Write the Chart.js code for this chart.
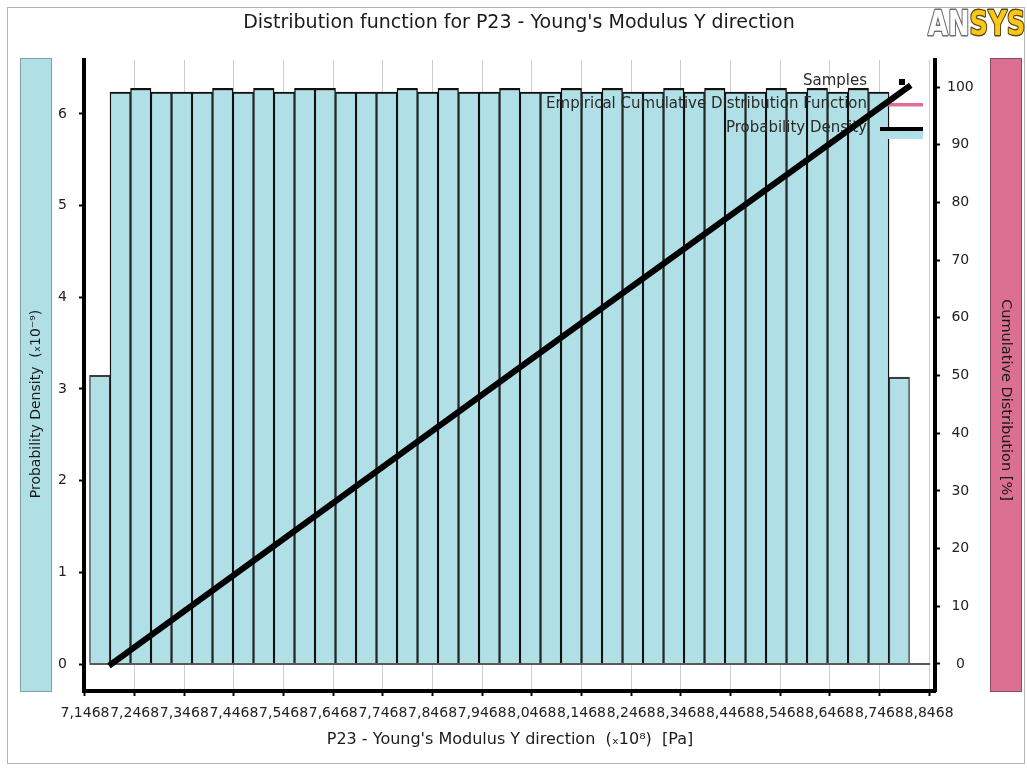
<!DOCTYPE html>
<html>
<head>
<meta charset="utf-8">
<script src="https://cdn.jsdelivr.net/npm/chart.js@4.4.1/dist/chart.umd.min.js"></script>
<style>
  html, body { margin: 0; padding: 0; background: #ffffff; }
  #wrap { width: 1027px; height: 769px; position: relative; }
</style>
</head>
<body>
<div id="wrap"><canvas id="c" width="1027" height="769"></canvas></div>
<script>
// P23 - Young's Modulus Y direction, values in units of 1e8 Pa
const binStart = 7.1559;     // left edge of the first histogram bin
const binWidth = 0.04129;    // width of every histogram bin
// probability density per bin, units of 1e-9
const density = [3.15, 6.24, 6.28, 6.24, 6.24, 6.24, 6.28, 6.24, 6.28, 6.24,
                 6.28, 6.28, 6.24, 6.24, 6.24, 6.28, 6.24, 6.28, 6.24, 6.24,
                 6.28, 6.24, 6.24, 6.28, 6.24, 6.28, 6.24, 6.24, 6.28, 6.24,
                 6.28, 6.24, 6.24, 6.28, 6.24, 6.28, 6.24, 6.28, 6.24, 3.13, 0];
// cumulative distribution of the samples
const cdfX   = [7.200, 8.000, 8.805];
const cdfPct = [0, 50, 100];
// axis ticks
const xTicks      = [7.1468, 7.2468, 7.3468, 7.4468, 7.5468, 7.6468, 7.7468, 7.8468, 7.9468,
                     8.0468, 8.1468, 8.2468, 8.3468, 8.4468, 8.5468, 8.6468, 8.7468, 8.8468];
const xTickLabels = ['7,1468', '7,2468', '7,3468', '7,4468', '7,5468', '7,6468', '7,7468', '7,8468', '7,9468',
                     '8,0468', '8,1468', '8,2468', '8,3468', '8,4468', '8,5468', '8,6468', '8,7468', '8,8468'];
const densityTicks = [0, 1, 2, 3, 4, 5, 6];
const cdfTicks     = [0, 10, 20, 30, 40, 50, 60, 70, 80, 90, 100];

const FONT = '"DejaVu Sans", "Noto Sans", sans-serif';
const BLUE = '#B0E0E6';
const PINK = '#DB7093';

const histPoints = density.map((d, i) => ({ x: binStart + (i + 0.5) * binWidth, y: d }));
const baseline = [
  { x: binStart, y: 0 },
  { x: binStart + density.length * binWidth, y: 0 }
];
const cdfPoints = cdfX.map((x, i) => ({ x: x, y: cdfPct[i] }));

function rotatedText(ctx, text, x, y, angle, font) {
  ctx.save();
  ctx.translate(x, y);
  ctx.rotate(angle);
  ctx.font = font;
  ctx.fillStyle = '#1a1a1a';
  ctx.textAlign = 'center';
  ctx.textBaseline = 'middle';
  ctx.fillText(text, 0, 0);
  ctx.restore();
}

const decorations = {
  id: 'decorations',
  beforeDraw(chart) {
    const ctx = chart.ctx;
    ctx.save();
    ctx.fillStyle = '#ffffff';
    ctx.fillRect(0, 0, chart.width, chart.height);

    // outer frame
    ctx.strokeStyle = '#b4b4b4';
    ctx.lineWidth = 1;
    ctx.strokeRect(7.5, 7.5, 1017, 756);

    // side panels carrying the value-axis titles
    ctx.fillStyle = BLUE;
    ctx.fillRect(20, 58, 32, 634);
    ctx.strokeStyle = '#7fa3a8';
    ctx.strokeRect(20.5, 58.5, 31, 633);
    ctx.fillStyle = PINK;
    ctx.fillRect(990, 58, 32, 634);
    ctx.strokeStyle = '#8c4a60';
    ctx.strokeRect(990.5, 58.5, 31, 633);
    rotatedText(ctx, 'Probability Density  (\u209310\u207B\u2079)', 36, 404, -Math.PI / 2, '14px ' + FONT);
    rotatedText(ctx, 'Cumulative Distribution [%]', 1006, 400, Math.PI / 2, '14.5px ' + FONT);

    // chart title
    ctx.fillStyle = '#1a1a1a';
    ctx.font = '19px ' + FONT;
    ctx.textAlign = 'center';
    ctx.textBaseline = 'middle';
    ctx.fillText("Distribution function for P23 - Young's Modulus Y direction", 519, 23);

    // x axis title
    ctx.font = '16px ' + FONT;
    ctx.fillText("P23 - Young's Modulus Y direction  (\u209310\u2078)  [Pa]", 510, 740);

    // logo
    ctx.save();
    ctx.translate(928, 35);
    ctx.scale(0.86, 1.15);
    ctx.font = 'bold 30px ' + FONT;
    ctx.textAlign = 'left';
    ctx.textBaseline = 'alphabetic';
    ctx.lineJoin = 'round';
    ctx.lineWidth = 2.4;
    const an = 'AN';
    const wAn = ctx.measureText(an).width;
    ctx.strokeStyle = '#6e6e6e';
    ctx.strokeText(an, 0, 0);
    ctx.fillStyle = '#ffffff';
    ctx.fillText(an, 0, 0);
    ctx.strokeStyle = '#5a4a10';
    ctx.strokeText('SYS', wAn, 0);
    ctx.fillStyle = '#FFC61A';
    ctx.fillText('SYS', wAn, 0);
    ctx.restore();

    ctx.restore();
  },
  afterDatasetDraw(chart, args) {
    if (args.index !== 0) return;
    // legend, drawn above the histogram and below the sample curve
    const ctx = chart.ctx;
    ctx.save();
    ctx.font = '15px ' + FONT;
    ctx.fillStyle = '#2a2a2a';
    ctx.textAlign = 'right';
    ctx.textBaseline = 'middle';
    ctx.fillText('Samples', 867, 81);
    ctx.fillText('Empirical Cumulative Distribution Function', 867, 104);
    ctx.fillText('Probability Density', 867, 128);
    ctx.fillStyle = '#000000';
    ctx.fillRect(899, 79, 6, 6);
    ctx.fillStyle = PINK;
    ctx.fillRect(880, 103, 43, 3.5);
    ctx.fillStyle = BLUE;
    ctx.fillRect(880, 131, 43, 8);
    ctx.fillStyle = '#000000';
    ctx.fillRect(880, 127, 43, 4);
    ctx.restore();
  }
};

const tickFont = { family: FONT, size: 14 };

new Chart(document.getElementById('c'), {
  type: 'bar',
  data: {
    datasets: [
      {
        type: 'bar',
        label: 'Probability Density',
        data: histPoints,
        xAxisID: 'x',
        yAxisID: 'y',
        backgroundColor: BLUE,
        borderColor: density.map((d, i) => (i === 0 || i === density.length - 2) ? '#3c3c3c' : '#111111'),
        borderWidth: { top: 2.2, left: 1.4, right: 1.4, bottom: 0 },
        borderSkipped: 'start',
        barPercentage: 1,
        categoryPercentage: 1,
        grouped: false,
        order: 3
      },
      {
        type: 'line',
        label: 'baseline',
        data: baseline,
        xAxisID: 'x',
        yAxisID: 'y',
        borderColor: '#5a5a5a',
        borderWidth: 2,
        pointRadius: 0,
        fill: false,
        order: 2
      },
      {
        type: 'line',
        label: 'Empirical Cumulative Distribution Function',
        data: cdfPoints,
        xAxisID: 'x',
        yAxisID: 'y2',
        borderColor: PINK,
        borderWidth: 2,
        pointRadius: 0,
        fill: false,
        order: 1
      },
      {
        type: 'line',
        label: 'Samples',
        data: cdfPoints,
        xAxisID: 'x',
        yAxisID: 'y2',
        borderColor: '#000000',
        borderWidth: 6,
        borderCapStyle: 'square',
        pointRadius: 0,
        fill: false,
        order: 0
      }
    ]
  },
  options: {
    responsive: false,
    animation: false,
    devicePixelRatio: 1,
    layout: { padding: { top: 60, left: 0, right: 0, bottom: 0 } },
    plugins: {
      legend: { display: false },
      tooltip: { enabled: false },
      title: { display: false }
    },
    scales: {
      x: {
        type: 'linear',
        position: 'bottom',
        min: 7.1448,
        max: 8.8588,
        offset: false,
        afterBuildTicks: (s) => { s.ticks = xTicks.map(v => ({ value: v })); },
        afterFit: (s) => { s.height = 78; },
        ticks: {
          autoSkip: false,
          maxRotation: 0,
          minRotation: 0,
          font: tickFont,
          color: '#222222',
          padding: 9,
          callback: (v, i) => xTickLabels[i]
        },
        grid: {
          offset: false,
          color: '#cdcdcd',
          lineWidth: 1,
          tickColor: '#000000',
          tickLength: 5,
          tickWidth: 2
        },
        border: { display: true, color: '#000000', width: 4 }
      },
      y: {
        type: 'linear',
        position: 'left',
        min: -0.2945,
        max: 6.589,
        afterBuildTicks: (s) => { s.ticks = densityTicks.map(v => ({ value: v })); },
        afterFit: (s) => { s.width = 84; },
        ticks: {
          font: tickFont,
          color: '#222222',
          padding: 12,
          crossAlign: 'center',
          callback: (v) => String(v)
        },
        grid: {
          drawOnChartArea: false,
          tickColor: '#000000',
          tickLength: 5,
          tickWidth: 2
        },
        border: { display: true, color: '#000000', width: 4 }
      },
      y2: {
        type: 'linear',
        position: 'right',
        min: -4.68,
        max: 104.68,
        afterBuildTicks: (s) => { s.ticks = cdfTicks.map(v => ({ value: v })); },
        afterFit: (s) => { s.width = 92; },
        ticks: {
          font: tickFont,
          color: '#222222',
          padding: 7,
          crossAlign: 'center',
          callback: (v) => String(v)
        },
        grid: {
          drawOnChartArea: false,
          tickColor: '#000000',
          tickLength: 5,
          tickWidth: 2
        },
        border: { display: true, color: '#000000', width: 4 }
      }
    }
  },
  plugins: [decorations]
});
</script>
</body>
</html>
